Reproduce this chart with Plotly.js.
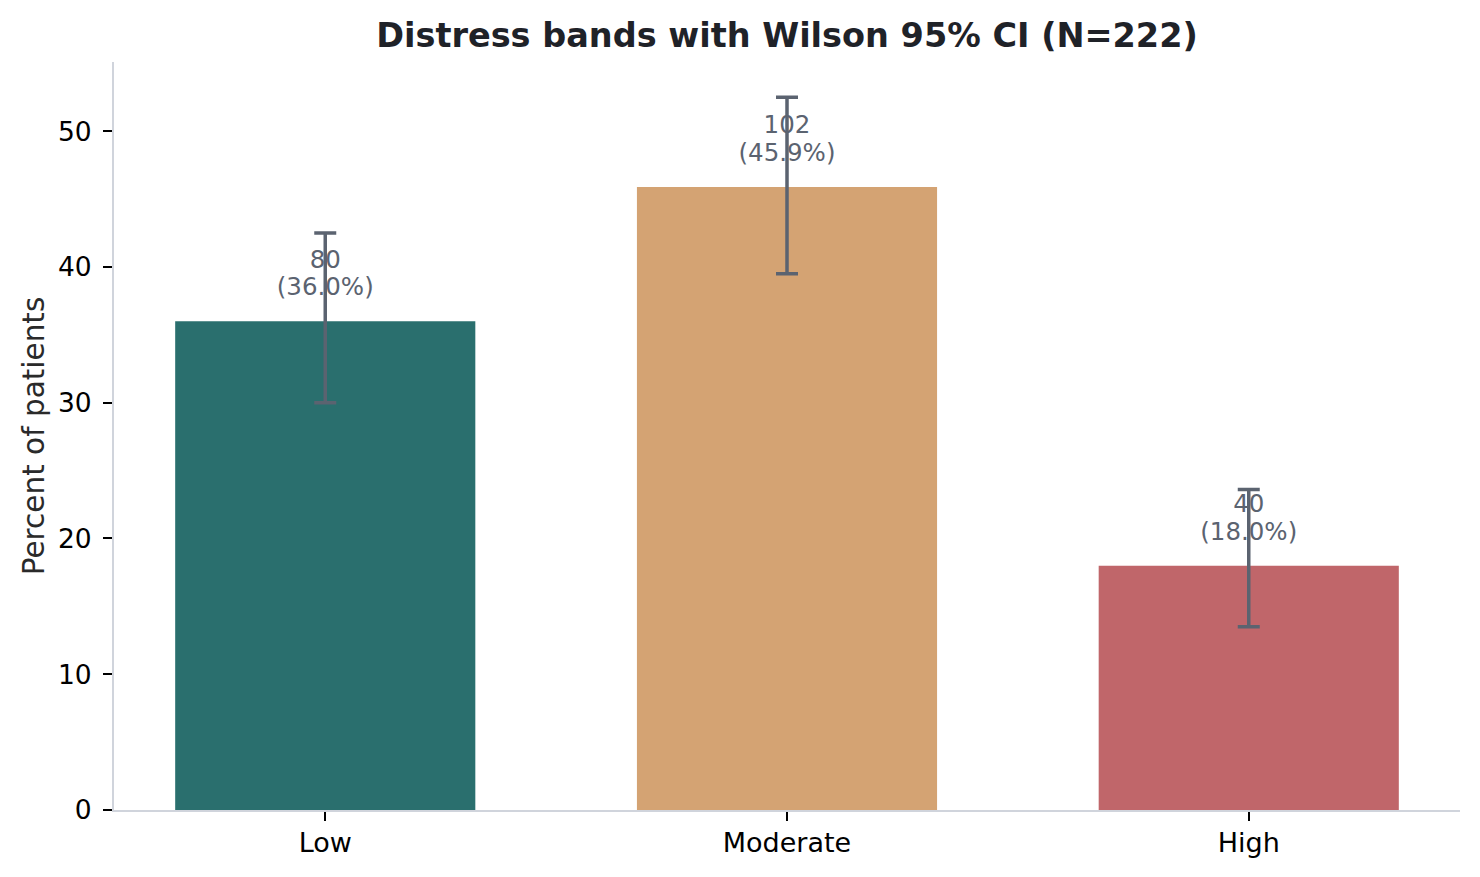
<!DOCTYPE html>
<html>
<head>
<meta charset="utf-8">
<script src="https://cdn.plot.ly/plotly-3.0.1.min.js"></script>
<style>html,body{margin:0;padding:0;background:#fff;}#chart{width:1480px;height:877px;}</style>
</head>
<body>
<div id="chart"></div>
<script>
const categories = ["Low", "Moderate", "High"];
const counts = [80, 102, 40];
const percents = [36.0, 45.9, 18.0];
const ciLower = [30.0, 39.5, 13.5];
const ciUpper = [42.5, 52.5, 23.6];
const barColors = ["#2a6f6e", "#d4a373", "#c0666a"];
const centers = ciLower.map((lo, i) => (lo + ciUpper[i]) / 2);

const countLabels = counts.map(c => String(c));
const pctLabels = percents.map(p => "(" + p.toFixed(1) + "%)");

const barTrace = {
  type: "bar",
  x: categories,
  y: percents,
  width: 0.65,
  marker: { color: barColors, line: { width: 0 } },
  hoverinfo: "skip",
  showlegend: false
};

const labelFont = { family: "DejaVu Sans", size: 24.5, color: "#5b6370" };

const pctTrace = {
  type: "scatter",
  mode: "text",
  x: categories,
  y: percents.map(p => p + 1.45),
  text: pctLabels,
  textposition: "top center",
  textfont: labelFont,
  hoverinfo: "skip",
  showlegend: false,
  cliponaxis: false
};

const countTrace = {
  type: "scatter",
  mode: "text",
  x: categories,
  y: percents.map(p => p + 3.5),
  text: countLabels,
  textposition: "top center",
  textfont: labelFont,
  hoverinfo: "skip",
  showlegend: false,
  cliponaxis: false
};

const errTrace = {
  type: "scatter",
  mode: "markers",
  x: categories,
  y: centers,
  marker: { size: 1, opacity: 0 },
  error_y: {
    type: "data",
    symmetric: false,
    array: ciUpper.map((u, i) => u - centers[i]),
    arrayminus: ciLower.map((l, i) => centers[i] - l),
    color: "#5b6370",
    thickness: 3.5,
    width: 11
  },
  hoverinfo: "skip",
  showlegend: false,
  cliponaxis: false
};

const layout = {
  width: 1480,
  height: 877,
  margin: { l: 114, r: 20, t: 62, b: 67 },
  paper_bgcolor: "#ffffff",
  plot_bgcolor: "#ffffff",
  font: { family: "DejaVu Sans", color: "#000" },
  title: {
    text: "<b>Distress bands with Wilson 95% CI (N=222)</b>",
    font: { family: "DejaVu Sans", size: 33.5, color: "#1f2228" },
    x: 0.5, xref: "paper",
    y: 1 - 35 / 877, yref: "container", yanchor: "middle"
  },
  xaxis: {
    type: "category",
    range: [-0.4575, 2.4575],
    showgrid: false,
    zeroline: false,
    showline: true,
    linecolor: "#d0d4dc",
    linewidth: 2,
    ticks: "outside",
    ticklen: 9,
    tickwidth: 2,
    tickcolor: "#000",
    ticklabelstandoff: -1,
    tickfont: { family: "DejaVu Sans", size: 27, color: "#000" }
  },
  yaxis: {
    range: [0, 55.1],
    tickvals: [0, 10, 20, 30, 40, 50],
    showgrid: false,
    zeroline: false,
    showline: true,
    linecolor: "#d0d4dc",
    linewidth: 2,
    ticks: "outside",
    ticklen: 9,
    tickwidth: 2,
    tickcolor: "#000",
    ticklabelstandoff: 6,
    tickfont: { family: "DejaVu Sans", size: 26.5, color: "#000" },
    title: {
      text: "Percent of patients",
      font: { family: "DejaVu Sans", size: 29.5, color: "#2a2a2a" },
      standoff: 5
    }
  },
  bargap: 0.35
};

Plotly.newPlot("chart", [barTrace, pctTrace, countTrace, errTrace], layout, { displayModeBar: false, staticPlot: true });
</script>
</body>
</html>
